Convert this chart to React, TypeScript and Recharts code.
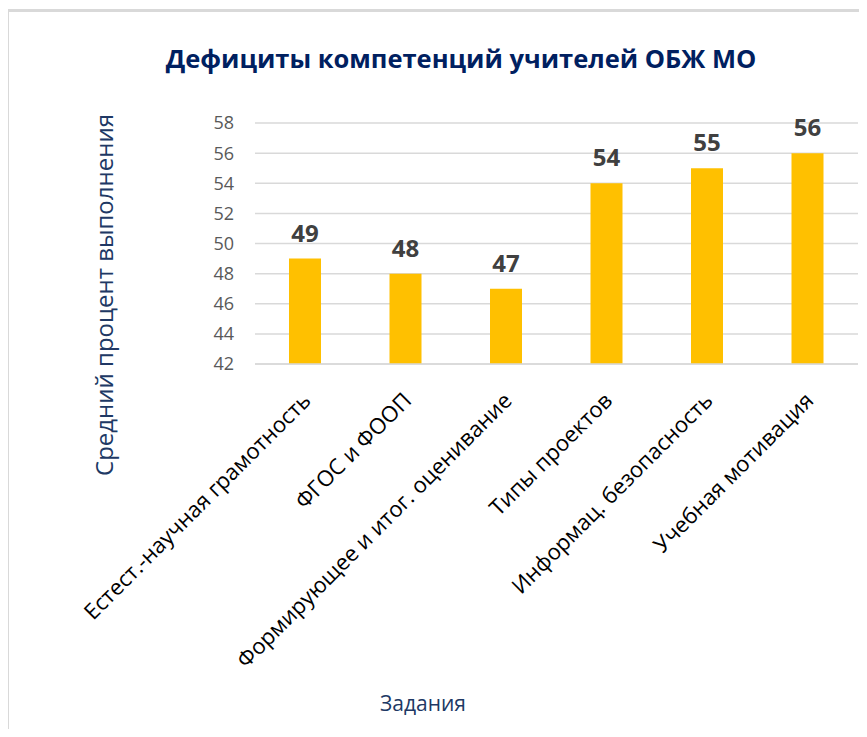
import { BarChart, Bar, XAxis, YAxis, CartesianGrid, LabelList } from 'recharts';

const categories = [
  'Естест.-научная грамотность',
  'ФГОС и ФООП',
  'Формирующее и итог. оценивание',
  'Типы проектов',
  'Информац. безопасность',
  'Учебная мотивация',
];
const values = [49, 48, 47, 54, 55, 56];
const yTicks = [42, 44, 46, 48, 50, 52, 54, 56, 58];

const data = categories.map((name, i) => ({ name, value: values[i] }));

const FONT = "'Open Sans', 'Noto Sans', sans-serif";

const XTick = ({ x, y, payload }: any) => (
  <g transform={`translate(${x + 7},${y + 30})`}>
    <text textAnchor="end" transform="rotate(-45)" fontSize={22} fill="#000" fontFamily={FONT}>
      {payload.value}
    </text>
  </g>
);

export default function App() {
  return (
    <div style={{ position: 'relative', width: 867, height: 737, margin: -8, overflow: 'hidden', background: '#fff' }}>
      {/* chart frame */}
      <div
        style={{
          position: 'absolute', left: 6, top: 9, width: 880, height: 760, boxSizing: 'border-box',
          borderLeft: '3px solid #d9d9d9', borderTop: '3px solid #d9d9d9',
        }}
      />

      <div
        style={{
          position: 'absolute', left: 461, top: 58, transform: 'translate(-50%,-50%)',
          whiteSpace: 'nowrap', fontFamily: FONT, fontWeight: 700, fontSize: 25.5, color: '#002060',
        }}
      >
        Дефициты компетенций учителей ОБЖ МО
      </div>

      <div
        style={{
          position: 'absolute', left: 103, top: 295, transform: 'translate(-50%,-50%) rotate(-90deg)',
          whiteSpace: 'nowrap', fontFamily: FONT, fontSize: 24, color: '#203864',
        }}
      >
        Средний  процент выполнения
      </div>

      <div
        style={{
          position: 'absolute', left: 423, top: 703, transform: 'translate(-50%,-50%)',
          whiteSpace: 'nowrap', fontFamily: FONT, fontSize: 21, color: '#203864',
        }}
      >
        Задания
      </div>

      <div style={{ position: 'absolute', left: 0, top: 0 }}>
        <BarChart
          width={867}
          height={737}
          data={data}
          margin={{ top: 123, right: 9, bottom: 73, left: 195 }}
          barSize={32}
        >
          <CartesianGrid vertical={false} stroke="#d9d9d9" strokeWidth={1.5} />
          <XAxis
            dataKey="name"
            height={300}
            interval={0}
            axisLine={{ stroke: '#d9d9d9', strokeWidth: 1.5 }}
            tickLine={false}
            tick={<XTick />}
          />
          <YAxis
            width={60}
            domain={[42, 58]}
            ticks={yTicks}
            interval={0}
            axisLine={false}
            tickLine={false}
            tickMargin={15}
            tick={{ fill: '#595959', fontSize: 18, fontFamily: FONT }}
          />
          <Bar dataKey="value" fill="#ffc000" isAnimationActive={false}>
            <LabelList
              dataKey="value"
              position="top"
              offset={17}
              fill="#404040"
              fontSize={24}
              fontWeight={700}
              fontFamily={FONT}
            />
          </Bar>
        </BarChart>
      </div>
    </div>
  );
}
